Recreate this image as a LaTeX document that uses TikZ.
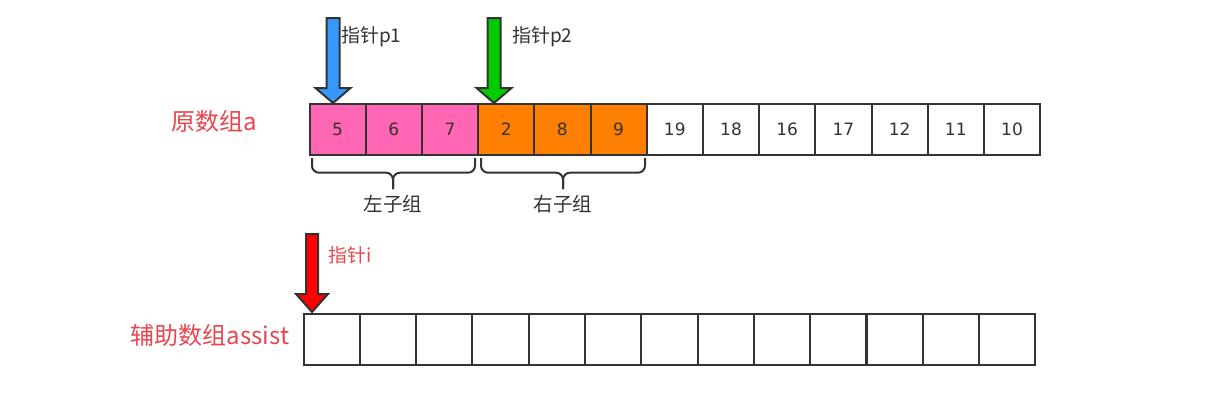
\documentclass[tikz,border=0pt]{standalone}
\usepackage{fontspec}
\usetikzlibrary{calc}
\setmainfont{DejaVu Sans}
\newfontfamily\cjk{Noto Sans CJK SC}
\definecolor{edge}{HTML}{333333}
\definecolor{pinkc}{HTML}{FF66B3}
\definecolor{orangec}{HTML}{FF8000}
\definecolor{bluec}{HTML}{3399FF}
\definecolor{greenc}{HTML}{00CC00}
\definecolor{redc}{HTML}{FF0000}
\definecolor{redtxt}{HTML}{E8464E}
\begin{document}
\begin{tikzpicture}[x=1pt,y=-1pt,
  cell/.style={draw=edge,line width=2pt,minimum width=56.2pt,minimum height=51.5pt,inner sep=0pt,
    font=\fontsize{17}{17}\selectfont,text=edge},
  ptr/.style={draw=edge,line width=2pt,line join=miter},
  lbl/.style={font=\cjk\fontsize{19}{19}\selectfont,text=edge,inner sep=0pt},
  sublbl/.style={font=\cjk\fontsize{19.5}{19.5}\selectfont,text=edge,inner sep=0pt},
  redlbl/.style={font=\cjk\fontsize{24}{24}\selectfont,text=redtxt,inner sep=0pt},
  brace/.style={draw=edge,line width=2pt,rounded corners=7pt}]
\useasboundingbox (0,0) rectangle (1212,400);
% top array
\foreach \v [count=\i] in {5,6,7,2,8,9,19,18,16,17,12,11,10}{
  \pgfmathsetmacro\cx{309.5+28.1+56.2*(\i-1)}
  \ifnum\i<4 \def\fc{pinkc}\else\ifnum\i<7 \def\fc{orangec}\else\def\fc{white}\fi\fi
  \node[cell,fill=\fc] (a\i) at (\cx,129.3) {\v};
}
% bottom array
\foreach \i in {1,...,13}{
  \pgfmathsetmacro\cx{303.5+28.15+56.3*(\i-1)}
  \node[cell] (b\i) at (\cx,339.3) {};
}
% labels
\node[redlbl] (la) at (214.5,121) {原数组a};
\node[redlbl] (lb) at (210,335) {辅助数组assist};
% pointer arrows
\coordinate (t1) at (333,103);
\coordinate (t2) at (494,103);
\coordinate (t3) at (312,312);
\filldraw[ptr,fill=bluec] ($(t1)+(-6.5,-85)$) -- ($(t1)+(6.5,-85)$) -- ($(t1)+(6.5,-15)$) -- ($(t1)+(17.5,-15)$) -- (t1) -- ($(t1)+(-17.5,-15)$) -- ($(t1)+(-6.5,-15)$) -- cycle;
\filldraw[ptr,fill=greenc] ($(t2)+(-6.5,-85)$) -- ($(t2)+(6.5,-85)$) -- ($(t2)+(6.5,-15)$) -- ($(t2)+(17.5,-15)$) -- (t2) -- ($(t2)+(-17.5,-15)$) -- ($(t2)+(-6.5,-15)$) -- cycle;
\filldraw[ptr,fill=redc] ($(t3)+(-6,-78)$) -- ($(t3)+(6,-78)$) -- ($(t3)+(6,-18)$) -- ($(t3)+(16,-18)$) -- (t3) -- ($(t3)+(-16,-18)$) -- ($(t3)+(-6,-18)$) -- cycle;
\node[lbl,anchor=west] (p1) at (341,37) {指针p1};
\node[lbl,anchor=west] (p2) at (512,37) {指针p2};
\node[lbl,anchor=west,text=redtxt] (pi) at (328,255) {指针i};
% braces
\draw[brace] (312,158) -- (312,172.7) -- (393,172.7) -- (393,189);
\draw[brace] (475,158) -- (475,172.7) -- (393,172.7) -- (393,189);
\draw[brace] (481,158) -- (481,172.7) -- (563,172.7) -- (563,189);
\draw[brace] (645,158) -- (645,172.7) -- (563,172.7) -- (563,189);
\node[sublbl] (lz) at (393,204) {左子组};
\node[sublbl] (rz) at (563,204) {右子组};
\end{tikzpicture}
\end{document}
